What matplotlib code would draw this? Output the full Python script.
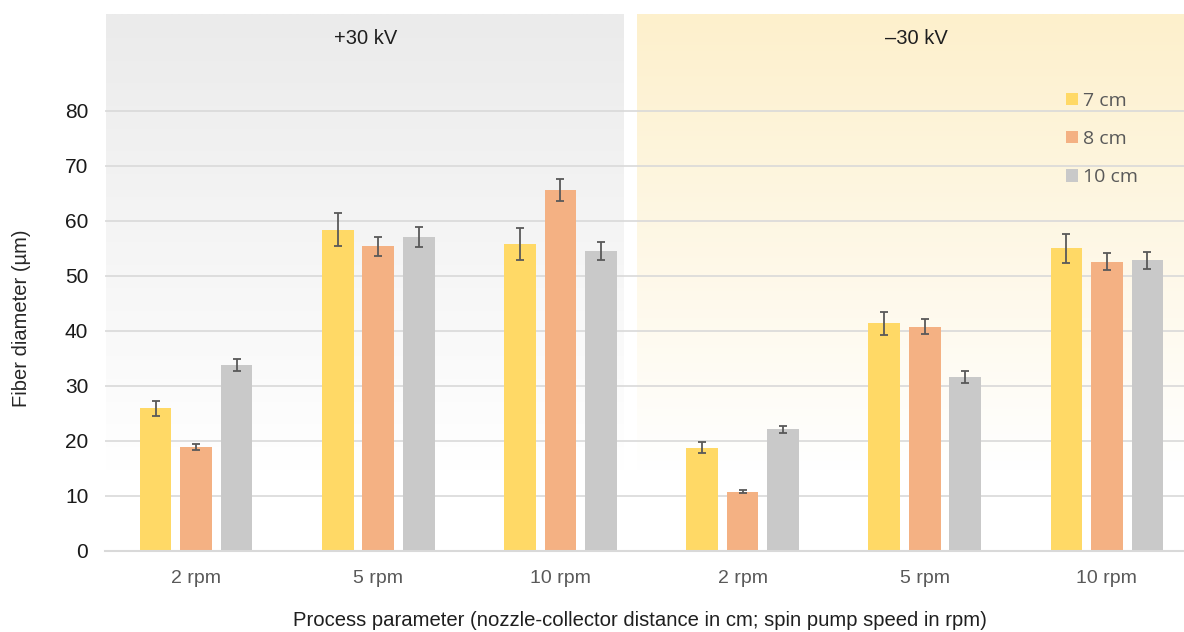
"""Fiber diameter vs process parameter, +30 kV / -30 kV panels. Output: out.png"""
import matplotlib
matplotlib.use("Agg")
import matplotlib.pyplot as plt
import numpy as np
from matplotlib.patches import Patch

plt.rcParams["font.family"] = ["Liberation Sans", "DejaVu Sans"]

GROUPS = ["2 rpm", "5 rpm", "10 rpm", "2 rpm", "5 rpm", "10 rpm"]
SERIES = ["7 cm", "8 cm", "10 cm"]

# first three groups at +30 kV, last three at -30 kV
mean_7 = [25.9, 58.4, 55.8, 18.8, 41.4, 55.0]
mean_8 = [18.9, 55.4, 65.7, 10.8, 40.8, 52.6]
mean_10 = [33.8, 57.1, 54.5, 22.1, 31.6, 52.8]
err_7 = [1.4, 3.0, 2.9, 1.0, 2.1, 2.7]
err_8 = [0.6, 1.7, 2.0, 0.3, 1.3, 1.6]
err_10 = [1.1, 1.8, 1.7, 0.7, 1.1, 1.6]

COLORS = ["#FFD966", "#F4B183", "#C9C9C9"]
GRID = "#d9d9d9"
ERR = "#595959"

W, H = 1184, 632
AX_L, AX_R, AX_B, AX_T = 105, 1184, 551, 14


def gradient(top_rgb):
    t = np.linspace(0, 1, 256)[:, None]
    f = np.clip(t / 0.85, 0, 1)
    top = np.array(top_rgb) / 255.0
    img = top[None, None, :] * (1 - f[..., None]) + 1.0 * f[..., None]
    return np.repeat(img, 2, axis=1)


def main():
    fig = plt.figure(figsize=(W / 100, H / 100), dpi=100)
    aw = AX_R - AX_L
    ax = fig.add_axes([AX_L / W, (H - AX_B) / H, aw / W, (AX_B - AX_T) / H])

    # two shaded panels, fading to white towards the bottom
    gray_x = ((106 - AX_L) / aw, (624 - AX_L) / aw)
    yel_x = ((637 - AX_L) / aw, 1.0)
    ax.imshow(gradient((235, 235, 235)), extent=[*gray_x, 0, 1], transform=ax.transAxes,
              aspect="auto", zorder=0, interpolation="bilinear")
    ax.imshow(gradient((253, 240, 204)), extent=[*yel_x, 0, 1], transform=ax.transAxes,
              aspect="auto", zorder=0, interpolation="bilinear")

    x = np.arange(len(GROUPS))
    pitch, width = 0.2225, 0.1735
    means = [mean_7, mean_8, mean_10]
    errs = [err_7, err_8, err_10]
    for k in range(3):
        ax.bar(x + (k - 1) * pitch, means[k], width, color=COLORS[k], zorder=2)
        ax.errorbar(x + (k - 1) * pitch, means[k], yerr=errs[k], fmt="none", ecolor=ERR,
                    elinewidth=1.3, capsize=3.2, capthick=1.3, zorder=3)

    ax.set_xlim(-0.5, 5.5 - 14 / 182)
    ax.set_ylim(0, 97.6)
    ax.set_xticks(x)
    ax.set_xticklabels(GROUPS, fontsize=14, color=ERR)
    ax.set_yticks(range(0, 90, 10))
    ax.yaxis.grid(True, color=GRID, linewidth=1.2)
    ax.set_axisbelow(True)
    for s in ("top", "right", "left"):
        ax.spines[s].set_visible(False)
    ax.spines["bottom"].set_color(GRID)
    ax.spines["bottom"].set_linewidth(1.5)
    ax.tick_params(axis="x", length=0, pad=14)
    ax.tick_params(axis="y", length=0, pad=12, labelsize=15, labelcolor="#1a1a1a")

    ax.text((366 - AX_L) / aw, 0.955, "+30 kV", transform=ax.transAxes, ha="center",
            va="center", fontsize=14.5, color="#1f1f1f")
    ax.text((916 - AX_L) / aw, 0.955, "\u201330 kV", transform=ax.transAxes, ha="center",
            va="center", fontsize=14.5, color="#1f1f1f")

    fig.text(22 / W, 1 - 318 / H, "Fiber diameter (\u00b5m)", rotation=90,
             ha="center", va="center", fontsize=14.5, color="#262626")
    fig.text(640 / W, 1 - 620 / H,
             "Process parameter (nozzle-collector distance in cm; spin pump speed in rpm)",
             ha="center", va="center", fontsize=14.6, color="#1f1f1f")

    handles = [Patch(facecolor=c, edgecolor="none") for c in COLORS]
    fig.legend(handles, SERIES, loc="upper left",
               bbox_to_anchor=(1066 / W, 1 - 92 / H), bbox_transform=fig.transFigure,
               frameon=False, handlelength=0.62, handleheight=0.62,
               handletextpad=0.27, labelspacing=1.03, borderpad=0, borderaxespad=0,
               prop={"family": ["Open Sans", "DejaVu Sans"], "size": 14},
               labelcolor="#595959")

    fig.savefig("out.png", dpi=100, facecolor="white")


if __name__ == "__main__":
    main()
